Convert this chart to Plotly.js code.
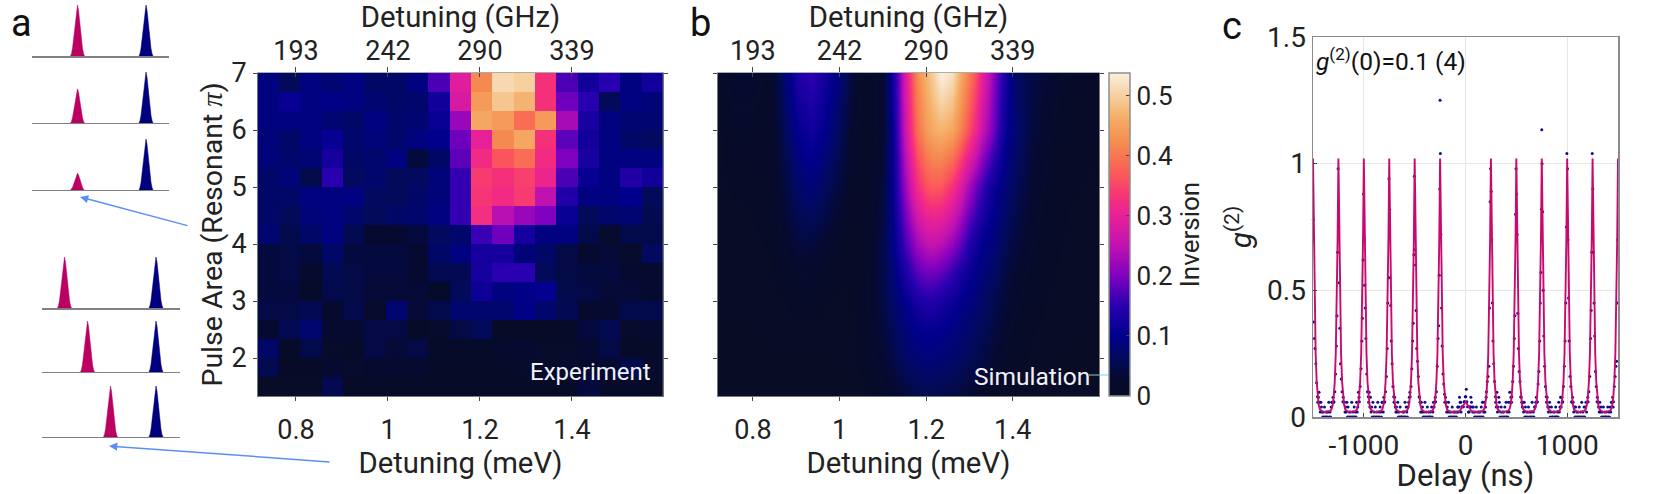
<!DOCTYPE html>
<html><head><meta charset="utf-8">
<script src="https://cdn.plot.ly/plotly-3.0.1.min.js"></script>
<style>html,body{margin:0;padding:0;background:#fff}#g{width:1660px;height:494px}</style>
</head><body><div id="g"></div>
<script>
// ---------- panel a : experiment ----------
const expDetuning=[0.7402,0.7865,0.8328,0.8791,0.9254,0.9717,1.018,1.0643,1.1106,1.1569,1.2032,1.2495,1.2958,1.3421,1.3884,1.4347,1.481,1.5273,1.5736];
const expArea=[6.8333,6.5,6.1667,5.8333,5.5,5.1667,4.8333,4.5,4.1667,3.8333,3.5,3.1667,2.8333,2.5,2.1667,1.8333,1.5];
const expInversion=[
[.09,.06,.09,.08,.09,.07,.07,.09,.17,.29,.42,.51,.50,.33,.17,.12,.15,.09,.12],
[.09,.11,.09,.095,.09,.08,.07,.075,.12,.28,.44,.49,.47,.33,.19,.15,.06,.09,.085],
[.09,.09,.09,.08,.07,.09,.075,.08,.11,.22,.455,.44,.39,.44,.23,.13,.09,.08,.08],
[.085,.07,.09,.11,.075,.085,.075,.09,.10,.19,.30,.42,.455,.33,.18,.12,.09,.07,.065],
[.085,.075,.08,.125,.07,.075,.09,.04,.07,.18,.32,.365,.39,.32,.20,.13,.09,.09,.09],
[.07,.085,.05,.15,.065,.075,.06,.065,.085,.155,.34,.33,.345,.31,.17,.11,.09,.14,.12],
[.07,.07,.09,.09,.09,.065,.06,.07,.085,.155,.335,.32,.34,.25,.14,.09,.09,.10,.06],
[.07,.06,.085,.09,.075,.06,.07,.075,.09,.155,.325,.245,.22,.20,.11,.06,.075,.08,.055],
[.08,.05,.07,.09,.055,.03,.03,.04,.065,.075,.16,.19,.125,.09,.09,.05,.02,.05,.05],
[.04,.045,.04,.07,.04,.04,.04,.03,.07,.09,.125,.125,.085,.07,.045,.025,.035,.02,.065],
[.04,.045,.025,.055,.045,.04,.04,.03,.055,.055,.125,.15,.15,.06,.045,.04,.04,.03,.025],
[.04,.04,.015,.05,.045,.035,.035,.035,.015,.06,.115,.09,.095,.105,.05,.045,.035,.035,.03],
[.045,.045,.055,.025,.05,.02,.08,.035,.05,.075,.075,.075,.095,.075,.055,.025,.03,.05,.05],
[.03,.055,.075,.025,.03,.045,.045,.015,.02,.045,.06,.01,.01,.01,.015,.04,.055,.02,.03],
[.07,.015,.05,.02,.015,.045,.035,.045,.015,.015,.015,.025,.03,.02,.02,.03,.045,.015,.015],
[.055,.01,.01,.03,.02,.025,.03,.03,.015,.015,.015,.015,.02,.02,.02,.025,.03,.05,.02],
[.005,.005,.005,.055,.01,.01,.01,.01,.01,.01,.01,.01,.01,.01,.01,.04,.015,.015,.01]];

// ---------- panel b : simulation ----------
const simDetuning=[0.72,0.755,0.79,0.84,0.87,0.905,0.935,0.965,1.0,1.03,1.065,1.10,1.12,1.135,1.15,1.165,1.18,1.20,1.215,1.235,1.26,1.28,1.295,1.315,1.33,1.345,1.36,1.375,1.39,1.405,1.445,1.485,1.53,1.6];
const simArea=[7,6,5,4,3.5,3,2.5,2,1.33];
const simInversion=[
[.01,.03,.03,.015,.075,.135,.155,.125,.085,.035,.01,.03,.12,.18,.27,.35,.42,.47,.50,.54,.52,.46,.42,.36,.30,.25,.20,.15,.11,.07,.045,.03,.015,.01],
[.005,.015,.015,.012,.055,.105,.12,.10,.06,.022,.01,.03,.10,.17,.25,.33,.39,.44,.46,.47,.455,.41,.37,.31,.26,.22,.18,.13,.10,.08,.04,.02,.01,.008],
[.005,.008,.008,.012,.038,.07,.085,.065,.038,.014,.01,.04,.10,.155,.21,.27,.32,.36,.37,.365,.33,.28,.24,.19,.16,.13,.11,.09,.075,.06,.03,.015,.008,.006],
[.004,.005,.006,.008,.02,.04,.04,.028,.012,.008,.015,.05,.09,.125,.16,.195,.225,.25,.255,.245,.215,.18,.15,.12,.10,.09,.08,.065,.05,.04,.02,.01,.006,.005],
[.004,.004,.005,.006,.013,.022,.02,.014,.008,.008,.02,.05,.08,.105,.13,.155,.175,.19,.19,.18,.155,.13,.115,.095,.085,.075,.065,.052,.04,.03,.015,.008,.005,.004],
[.004,.004,.004,.005,.007,.012,.012,.008,.006,.007,.02,.045,.07,.085,.10,.115,.13,.14,.14,.13,.115,.10,.09,.08,.07,.06,.05,.04,.03,.022,.012,.006,.004,.004],
[.003,.003,.003,.004,.004,.005,.005,.005,.005,.006,.018,.04,.058,.07,.08,.09,.10,.105,.105,.10,.09,.08,.075,.065,.055,.05,.04,.03,.022,.016,.008,.005,.004,.003],
[.003,.003,.003,.003,.003,.003,.003,.003,.004,.005,.014,.032,.048,.058,.066,.075,.08,.085,.085,.08,.075,.068,.06,.052,.045,.038,.03,.022,.016,.012,.006,.004,.003,.003],
[.002,.002,.002,.002,.002,.002,.002,.002,.002,.003,.006,.014,.022,.028,.035,.04,.045,.05,.05,.048,.042,.035,.03,.025,.02,.015,.008,.005,.003,.002,.002,.002,.002,.002]];

const meVTicks=[0.8,1,1.2,1.4];
const GHzTicks=['193','242','290','339'];
const areaTicks=[2,3,4,5,6,7];
const inversionTicks=[0,0.1,0.2,0.3,0.4,0.5];

// ---------- panel c : g2 ----------
const peakCenters=[-1500,-1250,-1000,-750,-500,-250,0,250,500,750,1000,1250,1500];
const fitOffsets=[-125,-95,-80,-68,-56,-46,-36,-26,-16,-8,0,8,16,26,36,46,56,68,80,95,125];
const fitProfile=[.02,.021,.024,.03,.048,.08,.14,.25,.45,.70,1.02,.70,.45,.25,.14,.08,.048,.03,.024,.021,.02];
const centreFit=[.02,.02,.02,.021,.024,.03,.036,.042,.05,.056,.06,.056,.05,.042,.036,.03,.024,.021,.02,.02,.02];
const dotOffsets=[-44,-36,-28,-20,-14,-8,-3,3,8,14,20,28,36,44];
const peakDots=[
[.06,.10,.15,.20,.30,.50,.70,.78,.375,.31,.27,.21,.135,.08],
[.06,.10,.17,.28,.40,.65,.98,.75,.53,.35,.21,.15,.10,.06],
[.06,.12,.19,.30,.39,.62,.88,.70,.52,.43,.31,.17,.10,.08],
[.06,.10,.16,.27,.45,.55,.94,.82,.55,.44,.30,.21,.12,.08],
[.08,.12,.19,.30,.37,.64,.95,.66,.60,.42,.27,.22,.16,.08],
[.06,.10,.20,.31,.36,.56,.90,1.04,.72,.43,.28,.17,.13,.09],
[.02,.04,.04,.04,.06,.06,.08,.08,.11,.06,.04,.02,.02,.04],
[.10,.14,.16,.20,.43,.85,.98,.89,.70,.45,.30,.21,.14,.08],
[.08,.14,.20,.31,.40,.80,.98,.88,.72,.41,.27,.18,.14,.08],
[.06,.13,.18,.30,.45,.57,.82,1.00,.81,.50,.32,.20,.12,.08],
[.06,.12,.20,.30,.45,.75,1.04,.98,.70,.47,.30,.16,.12,.06],
[.06,.10,.16,.31,.42,.65,1.04,.90,.65,.45,.32,.18,.12,.06],
[.06,.12,.16,.20,.22,.45,.70,.88,.5,.3,.2,.1,.06,.04]];
const outlierDelay=[-250,750];
const outlierG2=[1.25,1.134];
// count level (multiples of levelStep) in each bin between neighbouring peaks
const levelStep=0.0195;
const binStart=47, binWidth=6;
const gapLevels=[
'345313210102010101301023343',
'433121302010103010201031254',
'352412030102010301021033143',
'342121301020001010302102345',
'431312010301020100102013234',
'343121301010201010101212433',
'243212101020101010203013124',
'325124301201010203010315343',
'432313020101201010301022343',
'342123012001010200103124243',
'343120201010201030102023134',
'432131201020100102010213342'];

// ---------- left-hand pulse sketches ----------
const redPosition=[45.5,45.5,45.5,23,46,69];
const bluePosition=[114,114,114,114.5,114.5,114.5];
const redAmplitude=[1,0.67,0.33,1,1,1];
const blueAmplitude=[1,1,1,1,1,1];
const pulseOffsets=[-7,-6,-5,-4,-3,-2,-1,0,1,2,3,4,5,6,7];
const pulseProfile=[0,.05,.15,.31,.47,.68,.9,1,.9,.68,.47,.31,.15,.05,0];

// ---------- page layout helpers ----------
const W=1660,H=494,FONT='Roboto, sans-serif',INK='#222';
const dx=(a,b)=>[a/W,b/W], dy=(t,b)=>[1-b/H,1-t/H];
const colors=[[0,'#080c24'],[0.055,'#060a30'],[0.11,'#020a58'],[0.186,'#00008c'],[0.28,'#2a00b0'],[0.372,'#8000c0'],[0.465,'#c012b0'],[0.558,'#e82098'],[0.613,'#f5307a'],[0.688,'#fb5a58'],[0.78,'#f58a50'],[0.855,'#f5aa62'],[0.93,'#f6d0a0'],[1,'#faefe0']];

const traces=[
 {type:'heatmap',x:expDetuning,y:expArea,z:expInversion,coloraxis:'coloraxis',xaxis:'x',yaxis:'y',hoverinfo:'skip'},
 {type:'heatmap',x:simDetuning,y:simArea,z:simInversion,coloraxis:'coloraxis',zsmooth:'best',xaxis:'x4',yaxis:'y2',hoverinfo:'skip'}
];
// carriers so that the overlaid top axes are drawn
[['x2','y'],['x3','y'],['x5','y2'],['x6','y2']].forEach(([xa,ya])=>traces.push({type:'scatter',mode:'none',x:meVTicks,y:meVTicks.map(()=>areaTicks[0]),xaxis:xa,yaxis:ya,hoverinfo:'skip'}));
// g2 fit line
const lineX=[],lineY=[];
peakCenters.forEach(c=>{fitOffsets.forEach((o,i)=>{lineX.push(c+o);lineY.push(c===0?centreFit[i]:fitProfile[i]);});});
// g2 dots
const dotX=[],dotY=[];
const addDot=(x,y)=>{if(x>=-1500&&x<=1500){dotX.push(x);dotY.push(y);}};
peakCenters.forEach((c,p)=>dotOffsets.forEach((o,i)=>addDot(c+o,peakDots[p][i])));
gapLevels.forEach((s,g)=>[...s].forEach((d,i)=>addDot(peakCenters[g]+binStart+binWidth*i,+d*levelStep)));
outlierDelay.forEach((d,i)=>addDot(d,outlierG2[i]));
traces.push({type:'scatter',mode:'markers',x:dotX,y:dotY,marker:{size:3,color:'#0c0c8c'},xaxis:'x7',yaxis:'y3',hoverinfo:'skip',cliponaxis:false});
traces.push({type:'scatter',mode:'lines',x:lineX,y:lineY,line:{color:'#c80a6e',width:1.9},xaxis:'x7',yaxis:'y3',hoverinfo:'skip'});

const layout={width:W,height:H,margin:{l:0,r:0,t:0,b:0},showlegend:false,paper_bgcolor:'#fff',plot_bgcolor:'rgba(0,0,0,0)',
 font:{family:FONT,color:INK,size:27},
 coloraxis:{cmin:0,cmax:0.538,colorscale:colors,colorbar:{x:1109/W,xanchor:'left',y:1-73/H,yanchor:'top',xpad:0,ypad:0,thickness:21,thicknessmode:'pixels',len:323,lenmode:'pixels',
   outlinecolor:'#8a9090',outlinewidth:1.5,tickmode:'array',tickvals:inversionTicks,ticktext:['0','0.1','0.2','0.3','0.4','0.5'],ticks:'inside',ticklen:4,tickcolor:'#444',tickfont:{size:26,color:INK,family:FONT},
   title:{text:'Inversion',side:'right',font:{size:26,color:INK,family:FONT}}}},
 annotations:[],shapes:[]
};
function heatAxes(xb,xt,xi,yId,dom,rng){
 const base={range:rng,domain:dom,tickmode:'array',tickvals:meVTicks,zeroline:false,showgrid:false,tickcolor:'#444',ticklen:4,tickwidth:1};
 layout[xb]=Object.assign({},base,{anchor:yId,side:'bottom',ticks:'outside',ticktext:['0.8','1','1.2','1.4'],ticklabelstandoff:6,tickfont:{size:27,color:INK},showline:true,linecolor:'#707880',linewidth:1,
   title:{text:'Detuning (meV)',font:{size:29.3,color:INK},standoff:1}});
 layout[xt]=Object.assign({},base,{anchor:yId,overlaying:xb.replace('axis',''),side:'top',ticks:'outside',ticktext:GHzTicks,ticklabelstandoff:-4,ticklen:5,tickfont:{size:27,color:INK},showline:true,linecolor:'#a6aeae',linewidth:1.5,
   title:{text:'Detuning (GHz)',font:{size:29.3,color:INK},standoff:11}});
 layout[xi]=Object.assign({},base,{anchor:yId,overlaying:xb.replace('axis',''),side:'top',ticks:'inside',showticklabels:false,ticklen:4,showline:false});
}
heatAxes('xaxis','xaxis2','xaxis3','y',dx(258,663),[0.7174,1.598]);
heatAxes('xaxis4','xaxis5','xaxis6','y2',dx(718,1099),[0.7195,1.599]);
layout.yaxis={domain:dy(73,396),range:[1.3333,7],anchor:'x',tickmode:'array',tickvals:areaTicks,ticks:'outside',ticklen:4,tickcolor:'#444',mirror:'ticks',showline:true,linecolor:'#707880',linewidth:1,zeroline:false,showgrid:false,ticklabelstandoff:1,tickfont:{size:27,color:INK},
 title:{text:'Pulse Area (Resonant <span style="font-family:\'Liberation Serif\'"><i>π</i></span>)',font:{size:28.5,color:INK},standoff:0}};
layout.yaxis2={domain:dy(73,396),range:[1.3333,7],anchor:'x4',tickmode:'array',tickvals:areaTicks,ticks:'outside',ticklen:4,tickcolor:'#444',mirror:'ticks',showline:true,linecolor:'#707880',linewidth:1,zeroline:false,showgrid:false,showticklabels:false};
// panel c
layout.xaxis7={domain:dx(1313,1618),range:[-1500,1500],anchor:'y3',tickmode:'array',tickvals:[-1000,0,1000],ticktext:['-1000','0','1000'],ticks:'inside',ticklen:4,tickcolor:'#444',mirror:true,showline:true,linecolor:'#8a8a8a',linewidth:1.5,zeroline:false,showgrid:true,gridcolor:'#e6e6e6',gridwidth:1,
 tickfont:{size:28,color:INK},ticklabelstandoff:3,title:{text:'Delay (ns)',font:{size:31,color:INK},standoff:17}};
layout.yaxis3={domain:dy(37,417),range:[0,1.5],anchor:'x7',tickmode:'array',tickvals:[0,0.5,1,1.5],ticktext:['0','0.5','1','1.5'],ticks:'inside',ticklen:4,tickcolor:'#444',mirror:true,showline:true,linecolor:'#8a8a8a',linewidth:1.5,zeroline:false,showgrid:true,gridcolor:'#e6e6e6',gridwidth:1,
 tickfont:{size:28,color:INK},title:{text:'<i>g</i><sup>(2)</sup>',font:{size:30,color:INK},standoff:6}};
// pulse sketch rows
const rowBase=[56,123,190,308,372,437];
rowBase.forEach((b,r)=>{
 const xn=8+r,yn=4+r;
 const left=r<3?32:41.5,right=r<3?169:180;
 layout['xaxis'+xn]={domain:dx(left,right),range:[0,right-left],anchor:'y'+yn,showgrid:false,zeroline:false,showticklabels:false,ticks:'',showline:true,linecolor:'#808080',linewidth:(r===0||r===3)?2:1.2};
 layout['yaxis'+yn]={domain:dy(b-51,b),range:[0,1],anchor:'x'+xn,visible:false,fixedrange:true};
 [[redPosition[r],redAmplitude[r],'#bb0062'],[bluePosition[r],blueAmplitude[r],'#00007f']].forEach(([pos,amp,col])=>{
  traces.push({type:'scatter',mode:'lines',x:pulseOffsets.map(o=>o+pos),y:pulseProfile.map(v=>v*amp),fill:'tozeroy',fillcolor:col,line:{color:col,width:0.5},xaxis:'x'+xn,yaxis:'y'+yn,hoverinfo:'skip'});
 });
});
const note=(text,x,y,size,color,extra)=>layout.annotations.push(Object.assign({text,xref:'paper',yref:'paper',x:x/W,y:1-y/H,xanchor:'center',yanchor:'middle',showarrow:false,font:{size,color,family:FONT}},extra||{}));
note('a',21,23,38,'#111');note('b',700,23,38,'#111');note('c',1232,26,38,'#111');
note('Experiment',590,372,24,'#f0f2fa');note('Simulation',1032,376,24.5,'#f0f2fa');
note('<i>g</i><sup>(2)</sup>(0)=0.1 (4)',1391,60,24.5,'#111');
const arrow=(hx,hy,tx,ty)=>layout.annotations.push({text:'',xref:'paper',yref:'paper',x:hx/W,y:1-hy/H,ax:tx-hx,ay:ty-hy,showarrow:true,arrowhead:2,arrowsize:1.1,arrowwidth:1.5,arrowcolor:'#5b8ff5'});
arrow(80,197,189,226);arrow(109,446,331,462);
layout.shapes.push({type:'line',xref:'paper',yref:'paper',x0:1089/W,x1:1113/W,y0:1-375/H,y1:1-375/H,line:{color:'#7fd6cf',width:1}});
Plotly.newPlot('g',traces,layout,{staticPlot:true,displayModeBar:false});
</script></body></html>
